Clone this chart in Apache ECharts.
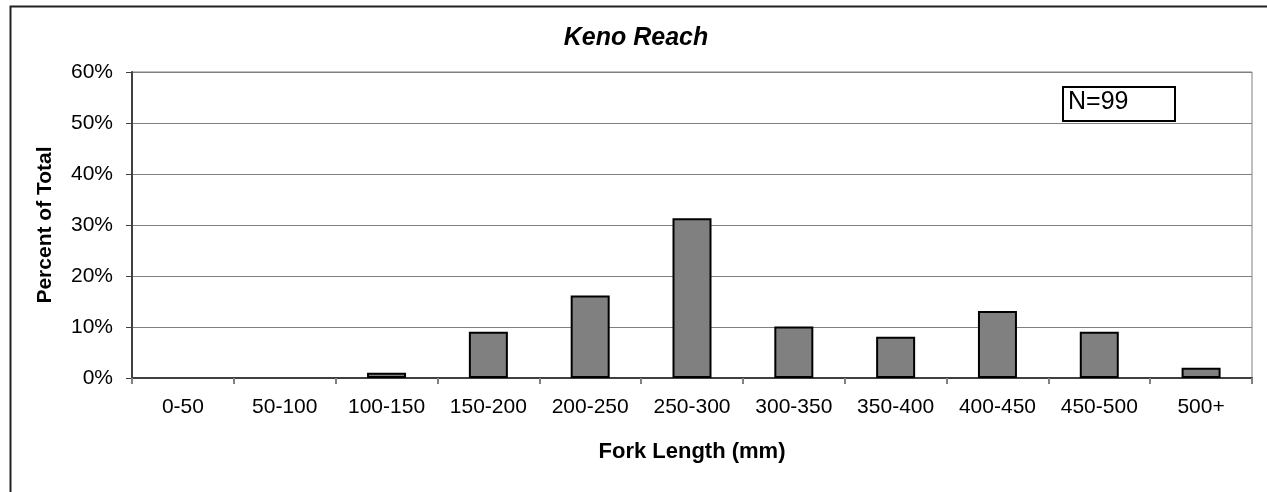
<!DOCTYPE html>
<html>
<head>
<meta charset="utf-8">
<script src="https://cdn.jsdelivr.net/npm/echarts@6/dist/echarts.min.js"></script>
<style>
html,body{margin:0;padding:0;background:#fff;}
#chart{width:1267px;height:492px;}
</style>
</head>
<body>
<div id="chart"></div>
<script>
const categories = ['0-50','50-100','100-150','150-200','200-250','250-300','300-350','350-400','400-450','450-500','500+'];
const percentValues = [0, 0, 1.01, 9.09, 16.16, 31.31, 10.10, 8.08, 13.13, 9.09, 2.02];
const yTicks = [0, 10, 20, 30, 40, 50, 60];
const titleText = 'Keno Reach';
const xAxisName = 'Fork Length (mm)';
const yAxisName = 'Percent of Total';
const sampleLabel = 'N=99';

const FONT = '"Liberation Sans", Arial, sans-serif';
const barData = percentValues.map(v => v === 0 ? {value: v, itemStyle: {borderWidth: 0, opacity: 0}} : v);

const chart = echarts.init(document.getElementById('chart'), null, {renderer: 'canvas'});
chart.setOption({
  animation: false,
  backgroundColor: '#fff',
  title: {
    text: titleText, left: 631, textAlign: 'center', top: 21,
    textStyle: {fontFamily: FONT, fontSize: 25, fontWeight: 'bold', fontStyle: 'italic', color: '#000'}
  },
  grid: {left: 132, right: 15, top: 72, bottom: 114, show: true, borderColor: '#808080', borderWidth: 1},
  xAxis: {
    type: 'category', data: categories,
    name: xAxisName, nameLocation: 'middle', nameGap: 63,
    nameTextStyle: {fontFamily: FONT, fontSize: 22, fontWeight: 'bold', color: '#000'},
    axisLine: {lineStyle: {color: '#404040', width: 2}},
    axisTick: {show: true, length: 6, alignWithLabel: false, lineStyle: {color: '#808080', width: 2}},
    axisLabel: {fontFamily: FONT, fontSize: 21, color: '#000', margin: 19, interval: 0},
    splitLine: {show: false}
  },
  yAxis: {
    type: 'value', min: yTicks[0], max: yTicks[yTicks.length - 1], interval: 10,
    name: yAxisName, nameLocation: 'middle', nameGap: 76, nameRotate: 90,
    nameTextStyle: {fontFamily: FONT, fontSize: 21, fontWeight: 'bold', color: '#000'},
    axisLine: {show: true, lineStyle: {color: '#404040', width: 2}},
    axisTick: {show: true, length: 6, lineStyle: {color: '#404040', width: 1}},
    axisLabel: {fontFamily: FONT, fontSize: 21, color: '#000', margin: 19, formatter: '{value}%'},
    splitLine: {show: true, lineStyle: {color: '#808080', width: 1}}
  },
  series: [{
    type: 'bar', data: barData, barWidth: 39,
    itemStyle: {color: '#808080', borderColor: '#000', borderWidth: 2}
  }],
  graphic: [
    {type: 'rect', left: 8, top: 4, shape: {width: 1300, height: 600}, style: {fill: 'none', stroke: '#222', lineWidth: 2}, silent: true, z: 100},
    {type: 'rect', left: 1062, top: 86, shape: {width: 112, height: 34}, style: {fill: '#fff', stroke: '#000', lineWidth: 2}, z: 100},
    {type: 'text', left: 1068, top: 90, style: {text: sampleLabel, font: '25px ' + FONT, fill: '#000'}, z: 101}
  ]
});
</script>
</body>
</html>
